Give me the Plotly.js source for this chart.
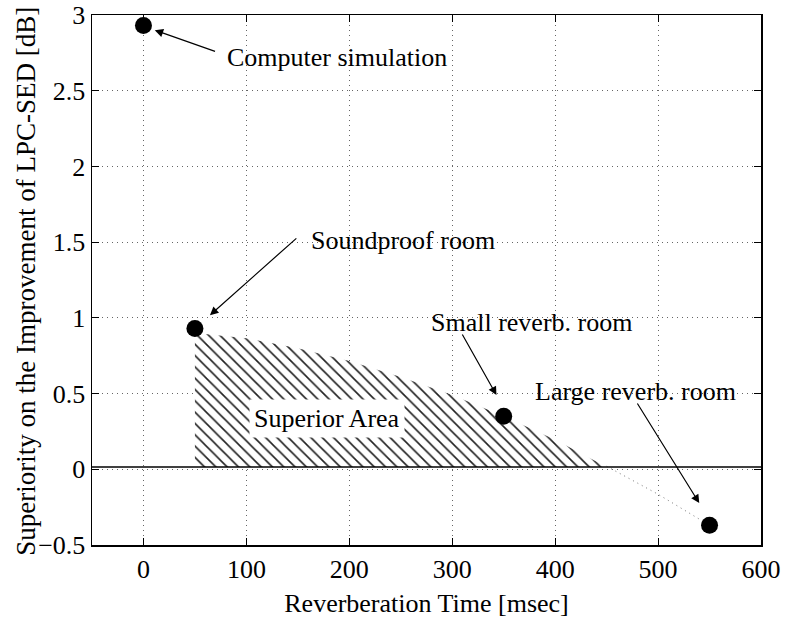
<!DOCTYPE html>
<html>
<head>
<meta charset="utf-8">
<script src="https://cdn.plot.ly/plotly-3.0.1.min.js"></script>
<style>html,body{margin:0;padding:0;background:#fff;}#chart{width:787px;height:618px;}</style>
</head>
<body>
<div id="chart"></div>
<script>
// Measured points (reverberation time in msec, superiority in dB)
const pointX = [0, 50, 350, 550];
const pointY = [2.93, 0.93, 0.35, -0.37];
const pointNames = ["Computer simulation", "Soundproof room", "Small reverb. room", "Large reverb. room"];

// Upper edge of the hatched "Superior Area"
const areaX = [50, 100, 150, 200, 250, 300, 350, 400, 450];
const areaY = [0.90, 0.865, 0.80, 0.715, 0.61, 0.49, 0.35, 0.195, 0.02];
// Dotted continuation below the baseline
const tailX = [450, 500, 550];
const tailY = [0.02, -0.165, -0.37];
// Solid reference line level
const baseline = 0.015;

const xTicks = [0, 100, 200, 300, 400, 500, 600];
const yTicks = [-0.5, 0, 0.5, 1, 1.5, 2, 2.5, 3];

const FONT = "'Liberation Serif', 'Times New Roman', Times, serif";
const FS = 26;

// polygon of the hatched area
const polyX = [areaX[0]].concat(areaX, [areaX[areaX.length - 1], areaX[0]]);
const polyY = [baseline].concat(areaY, [baseline, baseline]);

const traces = [
  {
    x: polyX, y: polyY, type: "scatter", mode: "lines",
    fill: "toself", fillcolor: "rgba(0,0,0,0)",
    fillpattern: {shape: "\\", size: 8, solidity: 0.2, fgcolor: "#222", bgcolor: "white"},
    line: {width: 0, color: "rgba(0,0,0,0)"}, hoverinfo: "skip", showlegend: false
  },
  {
    x: tailX, y: tailY, type: "scatter", mode: "lines",
    line: {color: "#777", width: 1, dash: "1px,4px"}, showlegend: false
  },
  {
    x: pointX, y: pointY, type: "scatter", mode: "markers", text: pointNames,
    marker: {color: "black", size: 17, symbol: "circle"}, showlegend: false
  }
];

function arrow(hx, hy, tx, ty) {
  return {x: hx, y: hy, ax: tx, ay: ty, axref: "x", ayref: "y", xref: "x", yref: "y",
    text: "", showarrow: true, arrowhead: 2, arrowsize: 1.4, arrowwidth: 1.2, arrowcolor: "black", standoff: 0, startstandoff: 0};
}
function label(txt, x, y, bg) {
  return {x: x, y: y, xref: "x", yref: "y", text: txt, showarrow: false,
    font: {family: FONT, size: FS, color: "black"}, bgcolor: bg || "rgba(0,0,0,0)", borderpad: 4};
}

const layout = {
  width: 787, height: 618,
  margin: {l: 92, r: 26, t: 15, b: 73},
  paper_bgcolor: "white", plot_bgcolor: "white",
  font: {family: FONT, size: FS, color: "black"},
  xaxis: {
    range: [-50, 600], tickvals: xTicks, ticktext: xTicks.map(String),
    ticks: "inside", ticklen: 7, tickcolor: "black", tickwidth: 1,
    showline: true, linecolor: "black", linewidth: 1.5, mirror: "ticks",
    showgrid: true, gridcolor: "#666", griddash: "1px,4px", gridwidth: 1,
    zeroline: false, ticklabelstandoff: 0,
    tickfont: {family: FONT, size: FS},
    title: {text: "Reverberation Time [msec]", font: {family: FONT, size: FS}, standoff: 12}
  },
  yaxis: {
    range: [-0.5, 3], tickvals: yTicks,
    ticks: "inside", ticklen: 7, tickcolor: "black", tickwidth: 1,
    showline: true, linecolor: "black", linewidth: 1.5, mirror: "ticks",
    showgrid: true, gridcolor: "#666", griddash: "1px,4px", gridwidth: 1,
    zeroline: false, ticklabelstandoff: 0,
    tickfont: {family: FONT, size: FS}
  },
  shapes: [
    {type: "line", xref: "paper", x0: 0, x1: 1, yref: "y", y0: baseline, y1: baseline, line: {color: "black", width: 1.5}}
  ],
  annotations: [
    {xref: "paper", yref: "paper", x: -0.1, y: 0.497, xanchor: "center", yanchor: "middle",
      text: "Superiority on the Improvement of LPC-SED [dB]", textangle: -90, showarrow: false,
      font: {family: FONT, size: 27, color: "black"}},
    arrow(11, 2.90, 71, 2.756),
    label("Computer simulation", 188, 2.72),
    arrow(64.6, 1.018, 150, 1.534),
    label("Soundproof room", 252, 1.514),
    arrow(343, 0.49, 309, 0.90),
    label("Small reverb. room", 377, 0.972),
    arrow(540, -0.223, 479, 0.444),
    label("Large reverb. room", 478, 0.517),
    label("Superior Area", 178, 0.338, "white")
  ]
};

Plotly.newPlot("chart", traces, layout, {displayModeBar: false, staticPlot: true});
</script>
</body>
</html>
